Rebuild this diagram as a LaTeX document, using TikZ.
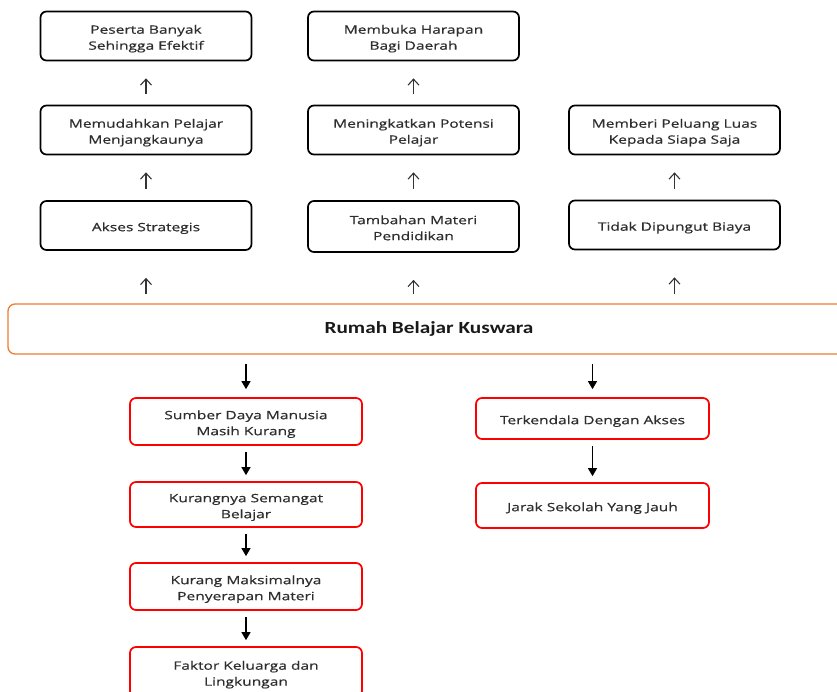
\documentclass[tikz,border=0pt]{standalone}
\usepackage{fontspec}
\newfontfamily\boxfont[FakeStretch=1.35,FakeBold=0.6]{Open Sans}
\newfontfamily\titlefont[FakeStretch=1.25]{Carlito}
\usetikzlibrary{arrows.meta}
\definecolor{Ink}{HTML}{2E2E2E}
\definecolor{Orange}{HTML}{ED7D31}
\definecolor{Red}{HTML}{FF0000}
\newcommand\boxtext[1]{\raisebox{-2.5pt}[\height][\depth]{\begin{tabular}{@{}c@{}}#1\end{tabular}}}

\begin{document}
\begin{tikzpicture}[x=1pt,y=-1pt,
    box/.style={rounded corners=6pt,minimum height=49pt,inner sep=0pt,text=Ink,font=\boxfont\fontsize{11.5}{16}\selectfont},
    good/.style={box,draw=black,line width=1.7pt,minimum width=211pt},
    bad/.style={box,draw=Red,line width=1.7pt,minimum width=232pt},
    hub/.style={draw=Orange,line width=1.3pt,rounded corners=7pt,minimum width=842pt,minimum height=50pt,font=\titlefont\bfseries\fontsize{17}{20}\selectfont,text=black!90},
    up/.style={-{Straight Barb[length=6pt,width=11pt]},line width=1.1pt,black!80},
    down/.style={-{Triangle[length=8pt,width=9pt]},line width=1.2pt,black}]
  \useasboundingbox(0,0)rectangle(837,691);
  \clip(0,0)rectangle(837,691);
  \node[good](a1)at(146,36){\boxtext{Peserta Banyak\\Sehingga Efektif}};
  \node[good](b1)at(413.5,36){\boxtext{Membuka Harapan\\Bagi Daerah}};
  \node[good](a2)at(146,130){\boxtext{Memudahkan Pelajar\\Menjangkaunya}};
  \node[good](b2)at(413.5,130){\boxtext{Meningkatkan Potensi\\Pelajar}};
  \node[good](c2)at(674.5,130){\boxtext{Memberi Peluang Luas\\Kepada Siapa Saja}};
  \node[good](a3)at(146,225.5){\boxtext{Akses Strategis}};
  \node[good,minimum height=51pt](b3)at(413.5,226.5){\boxtext{Tambahan Materi\\Pendidikan}};
  \node[good](c3)at(674.5,225){\boxtext{Tidak Dipungut Biaya}};
  \node[hub](hub)at(429,329){Rumah Belajar Kuswara};
  \node[bad,minimum height=47pt](d1)at(246,421.5){\boxtext{Sumber Daya Manusia\\Masih Kurang}};
  \node[bad,minimum height=45pt](d2)at(246,504.5){\boxtext{Kurangnya Semangat\\Belajar}};
  \node[bad,minimum height=47pt](d3)at(246,586.5){\boxtext{Kurang Maksimalnya\\Penyerapan Materi}};
  \node[bad,minimum height=50pt](d4)at(246,672){\boxtext{Faktor Keluarga dan\\Lingkungan}};
  \node[bad,minimum height=41pt,minimum width=233pt](e1)at(592.5,418.5){\boxtext{Terkendala Dengan Akses}};
  \node[bad,minimum height=45pt,minimum width=233pt](e2)at(592.5,505.5){\boxtext{Jarak Sekolah Yang Jauh}};
  \foreach \p/\q in {a3/a2,a2/a1,b3/b2,b2/b1,c3/c2}
    \draw[up,shorten <=11pt,shorten >=17pt](\p)--(\q);
  \foreach \q in {a3,b3,c3}
    \draw[up,shorten <=9pt,shorten >=27pt](hub.north -| \q)--(\q);
  \foreach \q in {d1,e1}
    \draw[down,shorten <=9pt,shorten >=8pt](hub.south -| \q)--(\q);
  \foreach \p/\q in {d1/d2,d2/d3,d3/d4,e1/e2}
    \draw[down,shorten <=6pt,shorten >=6pt](\p)--(\q);
\end{tikzpicture}
\end{document}
